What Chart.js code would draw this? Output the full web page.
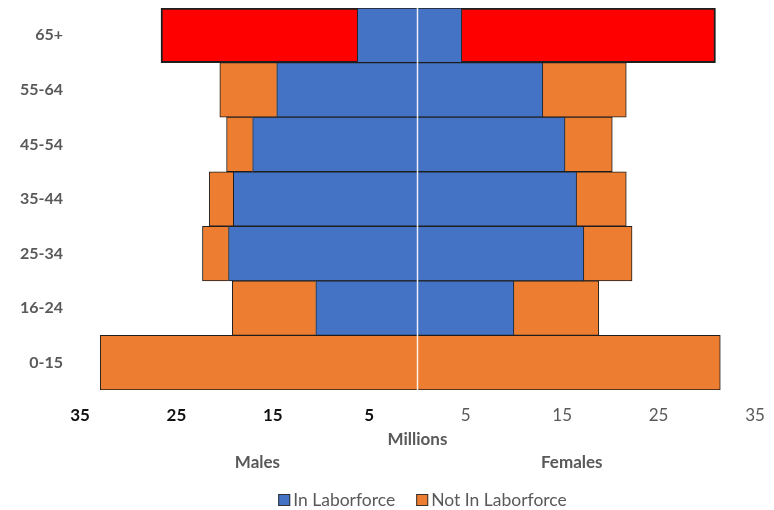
<!DOCTYPE html>
<html>
<head>
<meta charset="utf-8">
<script src="https://cdn.jsdelivr.net/npm/chart.js@4"></script>
<style>
	html, body { margin: 0; padding: 0; background: #fff; }
	#wrap { width: 774px; height: 510px; position: relative; }
</style>
</head>
<body>
<div id="wrap"><canvas id="pyramid-chart"></canvas></div>
<script>
const ageGroups = ["65+", "55-64", "45-54", "35-44", "25-34", "16-24", "0-15"];
// males are negative so they go to the left
const maleInLabor = [-6.25, -14.6, -17.1, -19.1, -19.6, -10.55, 0];
const maleNotInLabor = [-20.35, -5.9, -2.7, -2.5, -2.7, -8.65, -32.9];
const femaleInLabor = [4.6, 13.0, 15.3, 16.5, 17.25, 10.0, 0];
const femaleNotInLabor = [26.3, 8.65, 4.9, 5.15, 5.0, 8.8, 31.4];
const tickValues = [-35, -25, -15, -5, 5, 15, 25, 35];
const axisTitle = "Millions";
const sideLabels = [
	{ text: "Males", value: -16.6 },
	{ text: "Females", value: 16.0 },
];
const legendItems = ["In Laborforce", "Not In Laborforce"];

const blue = "#4472C4";
const orange = "#ED7D31";
const red = "#FF0000";
const grey = "#595959";
const edge = "#1e1e1e";
const fontFamily = "Lato, 'Open Sans', sans-serif";

Chart.defaults.font.family = fontFamily;

// red for the 65+ row of the not-in-laborforce bars
const notColors = ageGroups.map((g) => (g == "65+" ? red : orange));
const notBorderWidths = ageGroups.map((g) => (g == "65+" ? 2 : 1));

const extrasPlugin = {
	id: "extras",
	afterDatasetsDraw(chart) {
		const ctx = chart.ctx;
		const area = chart.chartArea;
		const xScale = chart.scales.x;
		const x0 = xScale.getPixelForValue(0);
		ctx.save();
		// white line down the middle
		ctx.strokeStyle = "rgba(255, 255, 255, 0.85)";
		ctx.lineWidth = 1.5;
		ctx.beginPath();
		ctx.moveTo(x0, area.top);
		ctx.lineTo(x0, area.bottom);
		ctx.stroke();

		ctx.fillStyle = grey;
		ctx.font = "bold 17px " + fontFamily;
		ctx.textAlign = "center";
		ctx.textBaseline = "middle";
		ctx.fillText(axisTitle, x0, area.bottom + 50);
		sideLabels.forEach((s) => {
			ctx.fillText(s.text, xScale.getPixelForValue(s.value), area.bottom + 73);
		});

		// legend
		ctx.font = "17.5px " + fontFamily;
		ctx.textAlign = "left";
		const colors = [blue, orange];
		const box = 12;
		const widths = legendItems.map((t) => ctx.measureText(t).width);
		const total = widths.reduce((a, b) => a + b, 0) + legendItems.length * (box + 3) + 21;
		let lx = x0 + 5 - total / 2;
		const ly = area.bottom + 110;
		legendItems.forEach((t, i) => {
			ctx.fillStyle = colors[i];
			ctx.fillRect(lx, ly - box / 2, box, box);
			ctx.strokeStyle = "#333";
			ctx.lineWidth = 1;
			ctx.strokeRect(lx + 0.5, ly - box / 2 + 0.5, box - 1, box - 1);
			ctx.fillStyle = grey;
			ctx.fillText(t, lx + box + 3, ly);
			lx += box + 3 + widths[i] + 21;
		});
		ctx.restore();
	},
};

new Chart(document.getElementById("pyramid-chart"), {
	type: "bar",
	data: {
		labels: ageGroups,
		datasets: [
			{
				label: "In Laborforce",
				data: maleInLabor,
				backgroundColor: blue,
				borderColor: edge,
				borderWidth: 1,
			},
			{
				label: "Not In Laborforce",
				data: maleNotInLabor,
				backgroundColor: notColors,
				borderColor: edge,
				borderWidth: notBorderWidths,
			},
			{
				label: "Female In Laborforce",
				data: femaleInLabor,
				backgroundColor: blue,
				borderColor: edge,
				borderWidth: 1,
			},
			{
				label: "Female Not In Laborforce",
				data: femaleNotInLabor,
				backgroundColor: notColors,
				borderColor: edge,
				borderWidth: notBorderWidths,
			},
		],
	},
	options: {
		indexAxis: "y",
		responsive: true,
		maintainAspectRatio: false,
		animation: false,
		barPercentage: 1,
		categoryPercentage: 1,
		layout: {
			padding: { top: 8, right: 19, bottom: 0, left: 0 },
		},
		scales: {
			x: {
				stacked: true,
				min: -35,
				max: 35,
				grid: { display: false, drawTicks: false },
				border: { display: false },
				afterBuildTicks: (scale) => {
					scale.ticks = tickValues.map((v) => ({ value: v }));
				},
				afterFit: (scale) => {
					scale.height = 120;
					scale.paddingLeft = 0;
					scale.paddingRight = 0;
				},
				ticks: {
					padding: 15,
					callback: (value) => Math.abs(value),
					color: (c) => (c.tick && c.tick.value < 0 ? "#111" : grey),
					font: (c) => ({
						size: 17,
						weight: c.tick && c.tick.value < 0 ? "bold" : "normal",
					}),
				},
			},
			y: {
				stacked: true,
				grid: { display: false, drawTicks: false },
				border: { display: false },
				afterFit: (scale) => {
					scale.width = 80;
					scale.paddingTop = 0;
					scale.paddingBottom = 0;
				},
				ticks: {
					padding: 17,
					color: grey,
					font: { size: 16, weight: "bold" },
				},
			},
		},
		plugins: {
			legend: { display: false },
			tooltip: { enabled: false },
		},
	},
	plugins: [extrasPlugin],
});
</script>
</body>
</html>
